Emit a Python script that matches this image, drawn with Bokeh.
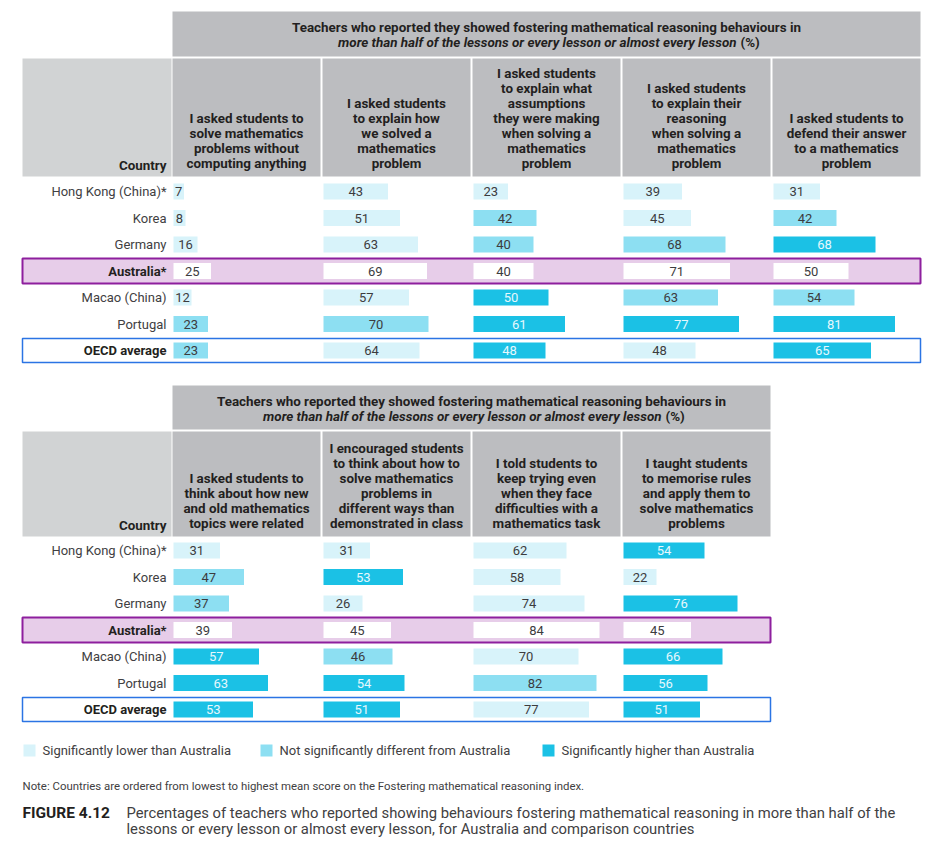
from bokeh.plotting import figure
from bokeh.models import Range1d, ColumnDataSource
from bokeh.core.properties import value
from bokeh.embed import file_html
from bokeh.resources import INLINE

# ---------------- data ----------------
countries = ["Hong Kong (China)*", "Korea", "Germany", "Australia*", "Macao (China)", "Portugal", "OECD average"]

title_line1 = "Teachers who reported they showed fostering mathematical reasoning behaviours in"
title_line2 = "more than half of the lessons or every lesson or almost every lesson"
title_suffix = "(%)"

top_headers = [
    ["I asked students to", "solve mathematics", "problems without", "computing anything"],
    ["I asked students", "to explain how", "we solved a", "mathematics", "problem"],
    ["I asked students", "to explain what", "assumptions", "they were making", "when solving a", "mathematics", "problem"],
    ["I asked students", "to explain their", "reasoning", "when solving a", "mathematics", "problem"],
    ["I asked students to", "defend their answer", "to a mathematics", "problem"],
]
top_values = [
    [7, 8, 16, 25, 12, 23, 23],
    [43, 51, 63, 69, 57, 70, 64],
    [23, 42, 40, 40, 50, 61, 48],
    [39, 45, 68, 71, 63, 77, 48],
    [31, 42, 68, 50, 54, 81, 65],
]
# L = significantly lower, N = not significantly different, H = significantly higher, A = Australia
top_sig = [
    ["L", "L", "L", "A", "L", "N", "N"],
    ["L", "L", "L", "A", "L", "N", "L"],
    ["L", "N", "N", "A", "H", "H", "H"],
    ["L", "L", "N", "A", "N", "H", "L"],
    ["L", "N", "H", "A", "N", "H", "H"],
]

bottom_headers = [
    ["I asked students to", "think about how new", "and old mathematics", "topics were related"],
    ["I encouraged students", "to think about how to", "solve mathematics", "problems in", "different ways than", "demonstrated in class"],
    ["I told students to", "keep trying even", "when they face", "difficulties with a", "mathematics task"],
    ["I taught students", "to memorise rules", "and apply them to", "solve mathematics", "problems"],
]
bottom_values = [
    [31, 47, 37, 39, 57, 63, 53],
    [31, 53, 26, 45, 46, 54, 51],
    [62, 58, 74, 84, 70, 82, 77],
    [54, 22, 76, 45, 66, 56, 51],
]
bottom_sig = [
    ["L", "N", "N", "A", "H", "H", "H"],
    ["L", "H", "L", "A", "N", "H", "H"],
    ["L", "L", "L", "A", "L", "N", "L"],
    ["H", "L", "H", "A", "H", "H", "H"],
]

legend_labels = ["Significantly lower than Australia",
                 "Not significantly different from Australia",
                 "Significantly higher than Australia"]
note_text = "Note:  Countries are ordered from lowest to highest mean score on the Fostering mathematical reasoning index."
fig_label = "FIGURE 4.12"
caption_lines = ["Percentages of teachers who reported showing behaviours fostering mathematical reasoning in more than half of the",
                 "lessons or every lesson or almost every lesson, for Australia and comparison countries"]

# ---------------- styles ----------------
FONT = value("Roboto")
C_LOW = "#d8f3fa"
C_NS = "#8ddff2"
C_HIGH = "#1bc1e5"
C_AUS = "#ffffff"
fill_map = {"L": C_LOW, "N": C_NS, "H": C_HIGH, "A": C_AUS}
txt_map = {"L": "#3c3c3e", "N": "#3c3c3e", "H": "#e6f8fd", "A": "#3c3c3e"}
HEAD_GRAY = "#bcbdc0"
COUNTRY_GRAY = "#d1d3d4"
DARK = "#231f20"
LABEL = "#414042"
HEAD_FS = "13.4px"

W, H = 924, 838
p = figure(width=W, height=H, output_backend="svg", toolbar_location=None,
           x_range=Range1d(0, W), y_range=Range1d(H, 0),
           min_border=0, tools="")
p.axis.visible = False
p.grid.visible = False
p.outline_line_color = None
p.background_fill_color = "white"

COL_W = 150
PX_PER_PCT = 1.5
TABLE_X0 = 172
LEFT = 22
LABEL_X = 166
ROW_STEP = 26.5
BAR_H = 16


def draw_table(headers, values, sig, title_top, header_top, header_bottom, row0):
    ncol = len(headers)
    right = TABLE_X0 + ncol * COL_W - 2
    # title box
    p.quad(left=[TABLE_X0], right=[right], top=[title_top], bottom=[header_top - 2],
           fill_color=HEAD_GRAY, line_color=None)
    cx = (TABLE_X0 + right) / 2
    p.text(x=[cx], y=[title_top + 16], text=[title_line1], text_font=FONT, text_font_size=HEAD_FS,
           text_font_style="bold", text_align="center", text_baseline="middle", text_color=DARK)
    p.text(x=[cx + 190], y=[title_top + 31], text=[title_line2], text_font=FONT, text_font_size=HEAD_FS,
           text_font_style="bold italic", text_align="right", text_baseline="middle", text_color=DARK)
    p.text(x=[cx + 194], y=[title_top + 31], text=[title_suffix], text_font=FONT, text_font_size=HEAD_FS,
           text_font_style="bold", text_align="left", text_baseline="middle", text_color=DARK)
    # country header
    p.quad(left=[LEFT], right=[TABLE_X0 - 1], top=[header_top], bottom=[header_bottom],
           fill_color=COUNTRY_GRAY, line_color=None)
    p.text(x=[LABEL_X], y=[header_bottom - 11], text=["Country"], text_font=FONT, text_font_size=HEAD_FS,
           text_font_style="bold", text_align="right", text_baseline="middle", text_color=DARK)
    # column headers
    for j, lines in enumerate(headers):
        x0 = TABLE_X0 + j * COL_W
        p.quad(left=[x0], right=[x0 + COL_W - 2], top=[header_top], bottom=[header_bottom],
               fill_color=HEAD_GRAY, line_color=None)
        n = len(lines)
        ys = [header_bottom - 13 - (n - 1 - k) * 15 for k in range(n)]
        p.text(x=[x0 + (COL_W - 2) / 2] * n, y=ys, text=lines, text_font=FONT, text_font_size=HEAD_FS,
               text_font_style="bold", text_align="center", text_baseline="middle", text_color=DARK)
    # row highlight boxes
    ys_rows = [row0 + i * ROW_STEP for i in range(len(countries))]
    ia = countries.index("Australia*")
    io = countries.index("OECD average")
    p.quad(left=[LEFT], right=[right], top=[ys_rows[ia] - 12.5], bottom=[ys_rows[ia] + 12.5],
           fill_color="#e7cde9", line_color="#8e1f9e", line_width=2)
    p.quad(left=[LEFT], right=[right], top=[ys_rows[io] - 12], bottom=[ys_rows[io] + 12],
           fill_color="white", line_color="#2b74e4", line_width=1.5)
    # country labels
    for i, c in enumerate(countries):
        bold = c in ("Australia*", "OECD average")
        p.text(x=[LABEL_X], y=[ys_rows[i]], text=[c], text_font=FONT, text_font_size="13px",
               text_font_style="bold" if bold else "normal", text_align="right",
               text_baseline="middle", text_color=DARK if bold else LABEL)
    # bars
    for j in range(ncol):
        x0 = TABLE_X0 + j * COL_W + 1
        vals = values[j]
        lefts = [x0] * len(vals)
        rights = [x0 + v * PX_PER_PCT for v in vals]
        src = ColumnDataSource(dict(
            y=ys_rows, left=lefts, right=rights,
            fill=[fill_map[s] for s in sig[j]],
            tc=[txt_map[s] for s in sig[j]],
            mid=[(a + b) / 2 for a, b in zip(lefts, rights)],
            lab=[str(v) for v in vals],
        ))
        p.hbar(y="y", left="left", right="right", height=BAR_H, fill_color="fill", line_color=None, source=src)
        p.text(x="mid", y="y", text="lab", text_color="tc", text_font=FONT, text_font_size="13px",
               text_align="center", text_baseline="middle", source=src)


draw_table(top_headers, top_values, top_sig, title_top=11, header_top=58, header_bottom=176, row0=191)
draw_table(bottom_headers, bottom_values, bottom_sig, title_top=385, header_top=431, header_bottom=536, row0=550)

# legend
leg_x = [23, 260, 542]
for k, lab in enumerate(legend_labels):
    col = [C_LOW, C_NS, C_HIGH][k]
    p.quad(left=[leg_x[k]], right=[leg_x[k] + 12], top=[744], bottom=[756], fill_color=col, line_color=None)
    p.text(x=[leg_x[k] + 19], y=[750], text=[lab], text_font=FONT, text_font_size="13px",
           text_align="left", text_baseline="middle", text_color=LABEL)

p.text(x=[22], y=[785], text=[note_text], text_font=FONT, text_font_size="11.4px",
       text_align="left", text_baseline="middle", text_color=LABEL)
p.text(x=[22], y=[812], text=[fig_label], text_font=FONT, text_font_size="15.5px", text_font_style="bold",
       text_align="left", text_baseline="middle", text_color=DARK)
p.text(x=[126, 126], y=[812, 828], text=caption_lines, text_font=FONT, text_font_size="14.8px",
       text_align="left", text_baseline="middle", text_color=LABEL)

open("out.html", "w").write(file_html(p, INLINE))
